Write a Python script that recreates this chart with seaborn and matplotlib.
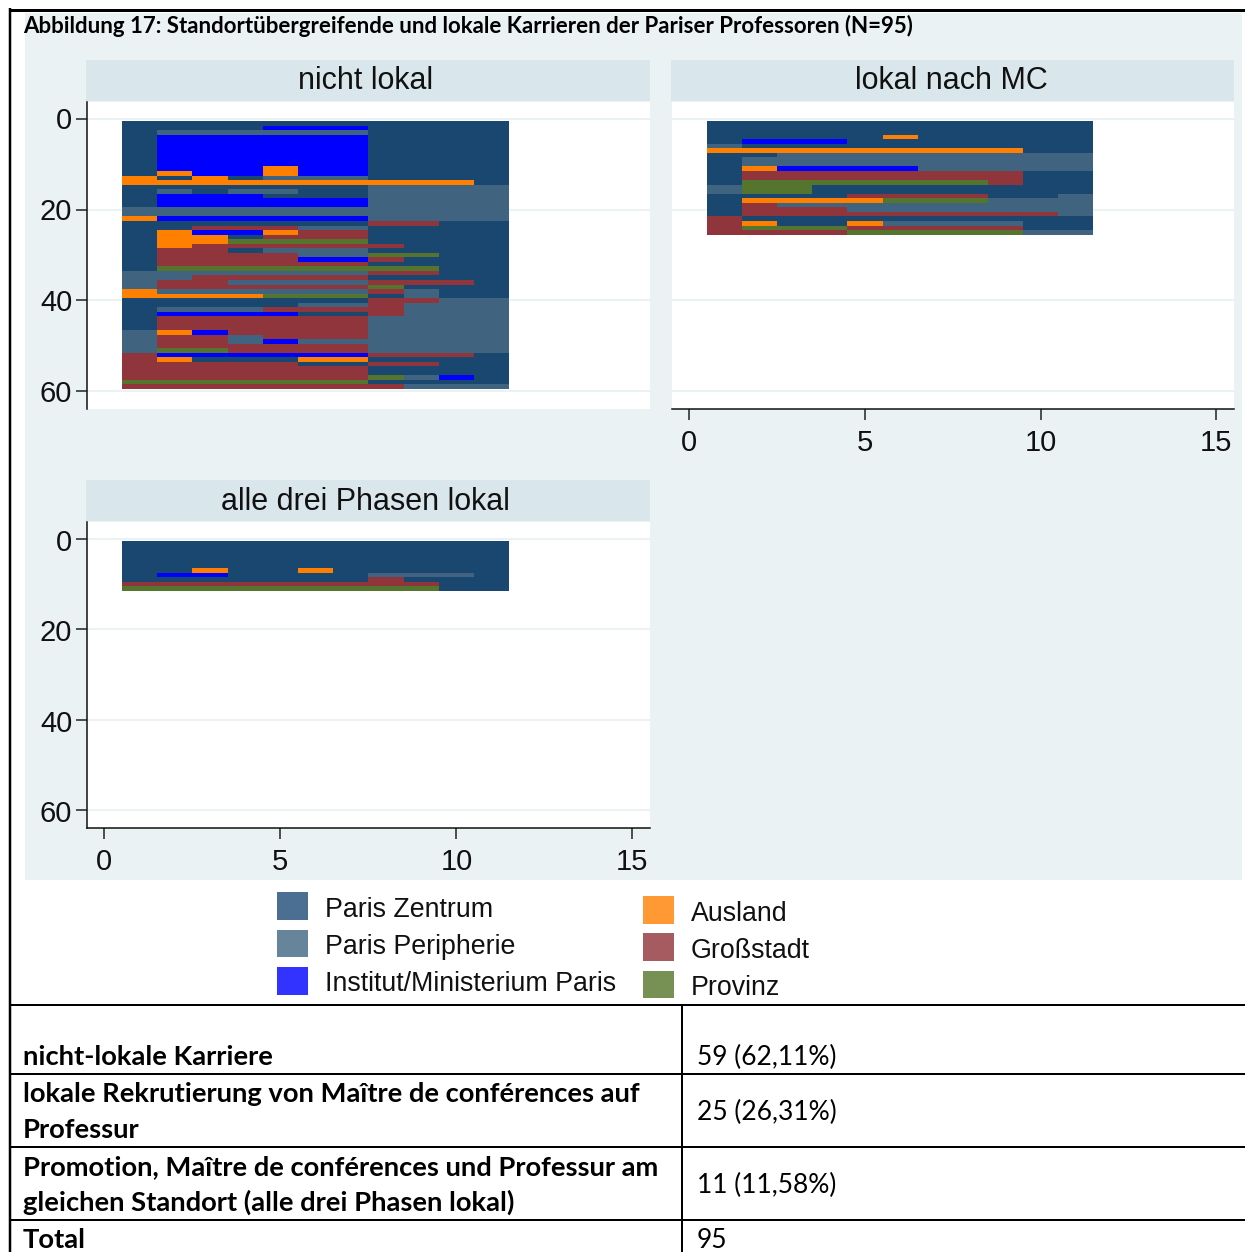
import numpy as np
import seaborn as sns
import matplotlib
matplotlib.use("Agg")
import matplotlib.pyplot as plt
from matplotlib.colors import ListedColormap
from matplotlib.lines import Line2D
from matplotlib.patches import Rectangle
from matplotlib.transforms import ScaledTranslation

# ---------- data ----------
STATE_CODES = ["Z", "P", "I", "A", "G", "V"]
STATE_NAMES = ["Paris Zentrum", "Paris Peripherie", "Institut/Ministerium Paris",
               "Ausland", "Großstadt", "Provinz"]
PANEL_TITLES = ["nicht lokal", "lokal nach MC", "alle drei Phasen lokal"]

nicht_lokal = [
    "ZZZZZZZZZZZ", "ZZZZIIIZZZZ", "ZPPPPPPZZZZ", "ZIIIIIIZZZZ", "ZIIIIIIZZZZ",
    "ZIIIIIIZZZZ", "ZIIIIIIZZZZ", "ZIIIIIIZZZZ", "ZIIIIIIZZZZ", "ZIIIIIIZZZZ",
    "ZIIIAIIZZZZ", "ZAIIAIIZZZZ", "AZAZPPPZZZZ", "AAAAAAAAAAZ", "ZZZZZZZPPPP",
    "ZPZPPZZPPPP", "ZIIIZZZPPPP", "ZIIIIIIPPPP", "ZIIIIIIPPPP", "PPPPPPPPPPP",
    "PPPPPPPPPPP", "AIIIIIIPPPP", "ZZZZZZZGGZZ", "ZZGGGPPZZZZ", "ZAIIAGGZZZZ",
    "ZAAZGGGZZZZ", "ZAAVVVVZZZZ", "ZAGGGGGGZZZ", "ZGGZPPPZZZZ", "ZGGGGPPVVZZ",
    "ZGGGGIIGZZZ", "ZGGGGGGZZZZ", "ZVVVVVVVVZZ", "PPPPPPPGGZZ", "PPGGGGGZZZZ",
    "PGGPPPPGGGZ", "PGGGGGGVZZZ", "APPPPPPGPZZ", "AAAAVVVZPZZ", "ZZZZZZZGGPP",
    "ZZZZZPPGPPP", "ZPPPGGGGPPP", "ZIIIIZZGPPP", "ZGGGGGGPPPP", "ZGGGGGGPPPP",
    "ZGGGGGGPPPP", "PAIGGGGPPPP", "PGGPGGGPPPP", "PGGPIPPPPPP", "PGGGGGGPPPP",
    "PVVGGGGPPPP", "GIIIIIIGGGZ", "GAZZZAAZZZZ", "GGGGGZZGGZZ", "GGGGGGGZZZZ",
    "GGGGGGGZZZZ", "GGGGGGGVPIZ", "VVVVVVVZZZZ", "GGGGGGGGPPP",
]
lokal_nach_mc = [
    "ZZZZZZZZZZZ", "ZZZZZZZZZZZ", "ZZZZZZZZZZZ", "ZZZZZAZZZZZ", "ZIIIZZZZZZZ",
    "PZZZZZZZZZZ", "AAAAAAAAAZZ", "ZZPPPPPPPPP", "ZPPPPPPPPPP", "ZPPPPPPPPPP",
    "ZAIIIIPPPPP", "ZGGGGGGGGZZ", "ZGGGGGGGGZZ", "ZVVVVVVVGZZ", "PVVZZZZZZZZ",
    "PVVZZZZZZZZ", "ZZZZGGGGZZP", "ZAAAAVVVPPP", "ZGPPPPPPPPP", "ZGGGPPPPPPP",
    "ZGGGGGGGGGP", "GZZZZZZZZZZ", "GAZZAPPPPZZ", "GVVVGGGGGZZ", "GGGGVVVVVPP",
]
alle_drei = [
    "ZZZZZZZZZZZ", "ZZZZZZZZZZZ", "ZZZZZZZZZZZ", "ZZZZZZZZZZZ", "ZZZZZZZZZZZ",
    "ZZZZZZZZZZZ", "ZZAZZAZZZZZ", "ZIIZZZZPPPZ", "ZZZZZZZGZZZ", "GGGGGGGGGZZ",
    "VVVVVVVVVZZ",
]
X_TICKS = [0, 5, 10, 15]
Y_TICKS = [0, 20, 40, 60]

TABLE_LABELS = [
    ["nicht-lokale Karriere"],
    ["lokale Rekrutierung von Maître de conférences auf", "Professur"],
    ["Promotion, Maître de conférences und Professur am",
     "gleichen Standort (alle drei Phasen lokal)"],
    ["Total"],
]
TABLE_VALUES = ["59 (62,11%)", "25 (26,31%)", "11 (11,58%)", "95"]
FIG_TITLE = "Abbildung 17: Standortübergreifende und lokale Karrieren der Pariser Professoren (N=95)"

# ---------- styles ----------
CELL_COLORS = ["#1a476f", "#40637f", "#0000ff", "#ff8000", "#90353b", "#55752f"]
LEG_COLORS = ["#4b6f92", "#66859a", "#3333ff", "#ff9933", "#a65b60", "#779155"]
BG = "#eaf2f3"
STRIP = "#d9e6eb"
W, H = 1245, 1252
ARIAL = "Liberation Sans"
CAL = "Lato"

sns.set_theme(style="white")
plt.rcParams["font.family"] = [ARIAL, "DejaVu Sans"]

fig = plt.figure(figsize=(W / 100, H / 100), dpi=100, facecolor="white")


def fx(x):
    return x / W


def fy(y):
    return 1 - y / H


def frect(x0, y0, x1, y1, color, z=0):
    fig.add_artist(Rectangle((fx(x0), fy(y1)), (x1 - x0) / W, (y1 - y0) / H,
                             transform=fig.transFigure, facecolor=color,
                             edgecolor="none", zorder=z))


def fline(x0, y0, x1, y1, lw):
    fig.add_artist(Line2D([fx(x0), fx(x1)], [fy(y0), fy(y1)], color="black",
                          lw=lw * 0.72, transform=fig.transFigure, zorder=5,
                          solid_capstyle="butt"))


def ftext(x, y, s, **kw):
    fig.text(fx(x), fy(y), s, va="baseline", **kw)


# backgrounds
frect(25, 13, 1242, 880, BG)

panels = [
    (nicht_lokal, 86, 86.8, 102, 650, 409, True, False, 366, 89, 60, 2.5),
    (lokal_nach_mc, 671, 671.8, 102, 1234, 409, False, True, 951, 89, 60, 2.5),
    (alle_drei, 86, 86.8, 522, 650, 828, True, True, 365, 510, 480, 4),
]
cmap = ListedColormap(CELL_COLORS)
for k, (rows, sx0, x0, y0, x1, y1, show_y, show_x, tx, ty, sy, dy) in enumerate(panels):
    frect(sx0, sy, x1, y0 - 1, STRIP)
    ftext(tx, ty, PANEL_TITLES[k], ha="center", fontsize=22, color="#111111",
          family=ARIAL)

    grid = np.full((61, 16), np.nan)
    for i, row in enumerate(rows):
        for j, code in enumerate(row):
            grid[i + 1, j + 1] = STATE_CODES.index(code)

    ax = fig.add_axes([fx(x0), fy(y1), (x1 - x0) / W, (y1 - y0) / H])
    ax.set_facecolor("white")
    sns.heatmap(grid, ax=ax, cmap=cmap, vmin=-0.5, vmax=5.5, cbar=False,
                mask=np.isnan(grid), square=False)
    ax.set_xlim(0, 16)
    ax.set_ylim(64.4, -3.2)
    ax.set_axisbelow(True)
    ax.grid(axis="y", color=BG, lw=1.5)
    ax.grid(axis="x", visible=False)

    ax.set_xticks([t + 0.5 for t in X_TICKS])
    ax.set_xticklabels([str(t) for t in X_TICKS], rotation=0)
    ax.set_yticks([t + 0.5 for t in Y_TICKS])
    ax.set_yticklabels([str(t) for t in Y_TICKS], rotation=0)
    ax.tick_params(axis="x", length=8, width=1.1, pad=6.2, labelsize=21,
                   bottom=show_x, labelbottom=show_x, color="#222222",
                   labelcolor="#111111")
    ax.tick_params(axis="y", length=8, width=1.1, pad=2.4, labelsize=21,
                   left=show_y, labelleft=show_y, color="#222222",
                   labelcolor="#111111")
    shift = ScaledTranslation(0, -dy / 100, fig.dpi_scale_trans)
    for lab in ax.get_yticklabels():
        lab.set_transform(lab.get_transform() + shift)
    ax.set_xlabel("")
    ax.set_ylabel("")
    for side, sp in ax.spines.items():
        sp.set_linewidth(1.1)
        sp.set_color("#111111")
        sp.set_visible((side == "left" and show_y) or (side == "bottom" and show_x))

# legend
leg_items = [
    (277, 308, 892, 920, 325, 917),
    (277, 308, 930, 957, 325, 954),
    (277, 308, 967, 995, 325, 991),
    (643, 674, 896, 924, 691, 921),
    (643, 674, 933, 961, 691, 958),
    (643, 674, 971, 998, 691, 995),
]
for (a, b, c, d, tx, ty), name, col in zip(leg_items, STATE_NAMES, LEG_COLORS):
    frect(a, c, b, d, col)
    ftext(tx, ty, name, ha="left", fontsize=19.3, color="#111111", family=ARIAL)

# title and table
ftext(23, 33.3, FIG_TITLE, ha="left", fontsize=16.05, fontweight="bold",
      color="black", family=CAL, zorder=6)

fline(9, 9.5, W, 9.5, 3)
fline(9.5, 8, 9.5, H, 2.5)
for yy in [1005, 1074, 1147, 1220]:
    fline(9, yy, W, yy, 2)
fline(682, 1005, 682, H, 2)

label_bases = [[1065], [1102, 1138], [1175, 1211], [1248]]
value_bases = [1065, 1120, 1193, 1248]
for lines, bases in zip(TABLE_LABELS, label_bases):
    for line, b in zip(lines, bases):
        ftext(23, b, line, ha="left", fontsize=19.7, fontweight="bold",
              color="black", family=CAL)
for v, b in zip(TABLE_VALUES, value_bases):
    ftext(697, b, v, ha="left", fontsize=19.0, color="black", family=CAL)

fig.savefig("out.png", dpi=100, facecolor="white")
